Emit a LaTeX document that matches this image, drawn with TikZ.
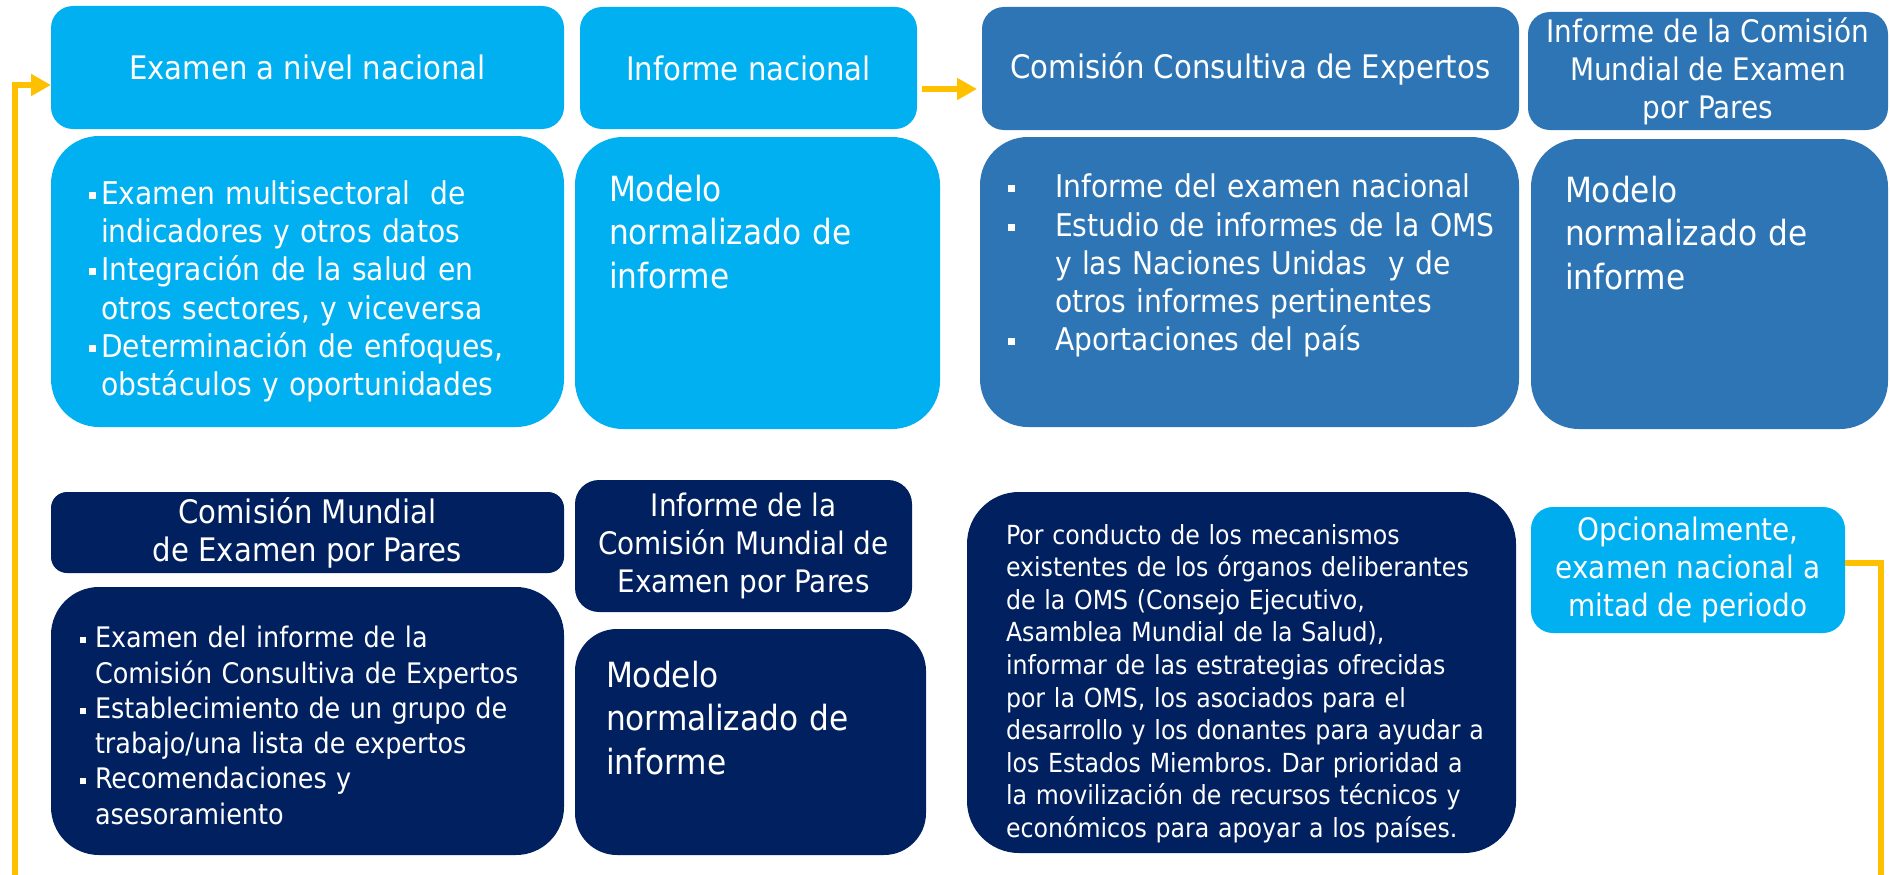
\documentclass[tikz,border=0pt]{standalone}
\usepackage{fontspec}
\setmainfont{DejaVu Sans Condensed}
\usetikzlibrary{arrows.meta}
\definecolor{lblue}{HTML}{00B0F0}
\definecolor{mblue}{HTML}{2E75B6}
\definecolor{navy}{HTML}{002060}
\definecolor{ylw}{HTML}{FFC000}
\newcommand{\bitem}[4]{\par\hangindent=#1\hangafter=1\noindent\makebox[#1][l]{\rule[#3]{#2}{#2}}#4\par}
\newcommand{\ftHead}{\fontsize{32.4pt}{38pt}\selectfont}
\newcommand{\ftHs}{\fontsize{31pt}{38pt}\selectfont}
\newcommand{\ftBul}{\fontsize{31.3pt}{38.3pt}\selectfont}
\newcommand{\ftMod}{\fontsize{34.7pt}{43.5pt}\selectfont}
\newcommand{\ftEb}{\fontsize{28.3pt}{35.3pt}\selectfont}
\newcommand{\ftG}{\fontsize{26.3pt}{32.6pt}\selectfont}
\frenchspacing
\begin{document}
\begin{tikzpicture}[x=1pt,y=-1pt,
  bx/.style={inner sep=0pt, outer sep=0pt, text=white, align=center},
  txt/.style={inner sep=0pt, outer sep=0pt, text=white, align=left, anchor=west},
  yline/.style={draw=ylw, line width=6pt},
  conn/.style={yline, -{Triangle[length=20pt,width=21pt]}}]
\useasboundingbox (0,0) rectangle (1890,875);

% top row
\node[bx, fill=lblue, minimum width=513pt, minimum height=123pt, rounded corners=22pt, font=\ftHead] (A) at (307.5,67.5) {Examen a nivel nacional};
\node[bx, fill=lblue, minimum width=513pt, minimum height=291pt, rounded corners=48pt] (A2) at (307.5,281.5) {};
\node[bx, fill=lblue, minimum width=337pt, minimum height=122pt, rounded corners=22pt, font=\ftHead] (B) at (748.5,68) {Informe nacional};
\node[bx, fill=lblue, minimum width=365pt, minimum height=292pt, rounded corners=48pt] (B2) at (757.5,283) {};
\node[bx, fill=mblue, minimum width=537pt, minimum height=123pt, rounded corners=22pt, font=\ftHead] (C) at (1250.5,68.5) {Comisión Consultiva de Expertos};
\node[bx, fill=mblue, minimum width=539pt, minimum height=290pt, rounded corners=48pt] (C2) at (1249.5,282) {};
\node[bx, fill=mblue, minimum width=360pt, minimum height=118pt, rounded corners=22pt, font=\ftHs] (D) at (1708,71) {Informe de la Comisión\\Mundial de Examen\\por Pares};
\node[bx, fill=mblue, minimum width=357pt, minimum height=290pt, rounded corners=48pt] (D2) at (1709.5,284) {};

% bottom row
\node[bx, fill=navy, minimum width=513pt, minimum height=81pt, rounded corners=16pt, font=\ftHead] (E) at (307.5,532.5) {Comisión Mundial\\de Examen por Pares};
\node[bx, fill=navy, minimum width=513pt, minimum height=268pt, rounded corners=48pt] (E2) at (307.5,721) {};
\node[bx, fill=navy, minimum width=337pt, minimum height=132pt, rounded corners=24pt, font=\ftHs] (F) at (743.5,546) {Informe de la\\Comisión Mundial de\\Examen por Pares};
\node[bx, fill=navy, minimum width=351pt, minimum height=226pt, rounded corners=42pt] (F2) at (750.5,742) {};
\node[bx, fill=navy, minimum width=549pt, minimum height=361pt, rounded corners=52pt] (G) at (1241.5,672.5) {};
\node[bx, fill=lblue, minimum width=314pt, minimum height=126pt, rounded corners=22pt, font=\ftHs] (H) at (1688,570) {Opcionalmente,\\examen nacional a\\mitad de periodo};

% texts
\node[txt, text width=470pt, font=\ftBul] (tA2) at (89,284) {%
\bitem{12pt}{7pt}{5.5pt}{Examen multisectoral\ \ de\newline indicadores y otros datos}%
\bitem{12pt}{7pt}{5.5pt}{Integración de la salud en\newline otros sectores, y viceversa}%
\bitem{12pt}{7pt}{5.5pt}{Determinación de enfoques,\newline obstáculos y oportunidades}};
\node[txt, text width=330pt, font=\ftMod] (tB2) at (609,232) {Modelo\\normalizado de\\informe};
\node[txt, text width=490pt, font=\ftBul] (tC2) at (1008,258.5) {%
\bitem{47pt}{7pt}{5.5pt}{Informe del examen nacional}%
\bitem{47pt}{7pt}{5.5pt}{Estudio de informes de la OMS\newline y las Naciones Unidas\ \ y de\newline otros informes pertinentes}%
\bitem{47pt}{7pt}{5.5pt}{Aportaciones del país}};
\node[txt, text width=310pt, font=\ftMod] (tD2) at (1565,233) {Modelo\\normalizado de\\informe};
\node[txt, text width=470pt, font=\ftEb] (tE2) at (80,718.5) {%
\bitem{15pt}{6pt}{4.7pt}{Examen del informe de la\newline Comisión Consultiva de Expertos}%
\bitem{15pt}{6pt}{4.7pt}{Establecimiento de un grupo de\newline trabajo/una lista de expertos}%
\bitem{15pt}{6pt}{4.7pt}{Recomendaciones y\newline asesoramiento}};
\node[txt, text width=310pt, font=\ftMod] (tF2) at (606,718) {Modelo\\normalizado de\\informe};
\node[txt, text width=500pt, font=\ftG] (tG) at (1006,683.5) {Por conducto de los mecanismos\\existentes de los órganos deliberantes\\de la OMS (Consejo Ejecutivo,\\Asamblea Mundial de la Salud),\\informar de las estrategias ofrecidas\\por la OMS, los asociados para el\\desarrollo y los donantes para ayudar a\\los Estados Miembros. Dar prioridad a\\la movilización de recursos técnicos y\\económicos para apoyar a los países.};

% connectors
\coordinate (bs) at ([xshift=5pt,yshift=-21pt]B.east);
\draw[conn, shorten >=5pt] (bs) -- (bs -| C.west);
\coordinate (bl) at (15,875);
\draw[conn] (bl) |- ([yshift=-17.5pt]A.west);
\coordinate (br) at (1881,875);
\draw[yline] ([yshift=7pt]H.east) -| (br);
\end{tikzpicture}
\end{document}
